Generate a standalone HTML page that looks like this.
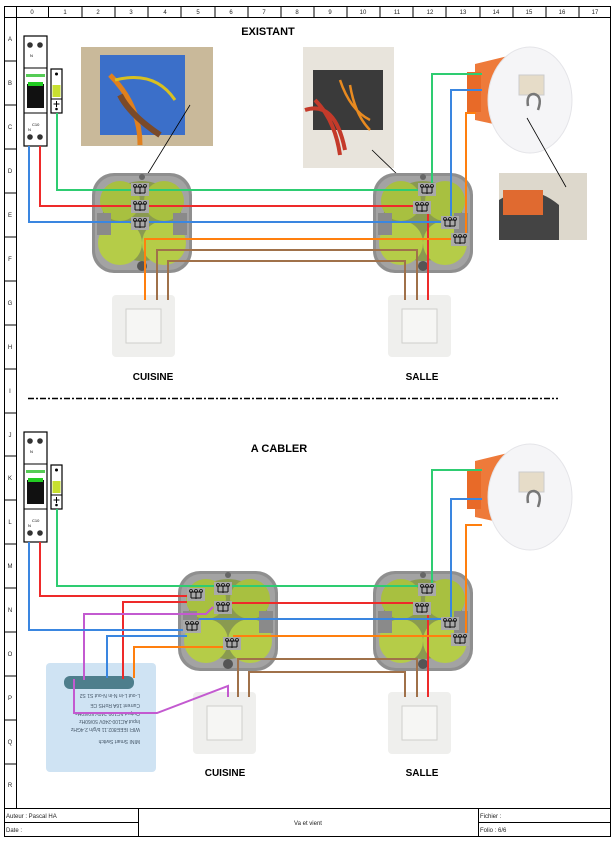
<!DOCTYPE html>
<html><head><meta charset="utf-8"><style>
html,body{margin:0;padding:0;background:#fff}
svg{display:block}
text{font-family:"Liberation Sans",sans-serif}
</style></head><body>
<svg width="615" height="843" viewBox="0 0 615 843" xmlns="http://www.w3.org/2000/svg">
<defs>
<g id="jb">
  <rect x="0" y="0" width="100" height="100" rx="22" fill="#8f8f8f"/>
  <rect x="3" y="3" width="94" height="94" rx="20" fill="#a3a3a3"/>
  <circle cx="50" cy="48" r="40" fill="#8a9a50"/>
  <circle cx="28" cy="28" r="20" fill="#a8c040"/>
  <circle cx="72" cy="28" r="20" fill="#a8c040"/>
  <circle cx="28" cy="70" r="22" fill="#b5cc48"/>
  <circle cx="72" cy="70" r="22" fill="#b5cc48"/>
  <rect x="5" y="40" width="14" height="22" fill="#8a8a8a"/>
  <rect x="81" y="40" width="14" height="22" fill="#8a8a8a"/>
  <circle cx="50" cy="93" r="5" fill="#555"/>
  <circle cx="50" cy="4" r="3" fill="#666"/>
</g>
<g id="cn">
  <rect x="0" y="0" width="18" height="13" fill="#a9a9a9"/>
  <path d="M3 4h12M4 4v6M9 4v7M14 4v6M4 10h10" stroke="#111" stroke-width="1" fill="none"/>
  <circle cx="4" cy="3" r="1.5" fill="none" stroke="#111" stroke-width=".8"/>
  <circle cx="9" cy="3" r="1.5" fill="none" stroke="#111" stroke-width=".8"/>
  <circle cx="14" cy="3" r="1.5" fill="none" stroke="#111" stroke-width=".8"/>
</g>
<g id="sw">
  <rect x="0" y="0" width="63" height="62" rx="4" fill="#efefed"/>
  <rect x="14" y="14" width="35" height="34" fill="#f6f6f4" stroke="#cfcfcc" stroke-width="1"/>
</g>
<g id="brk">
  <rect x="0" y="0" width="23" height="110" fill="#fff" stroke="#000" stroke-width="1.2"/>
  <line x1="0" y1="32" x2="23" y2="32" stroke="#000"/>
  <line x1="0" y1="77" x2="23" y2="77" stroke="#000"/>
  <circle cx="6" cy="9" r="2.8" fill="#333"/><circle cx="16" cy="9" r="2.8" fill="#333"/>
  <circle cx="6" cy="101" r="2.8" fill="#333"/><circle cx="16" cy="101" r="2.8" fill="#333"/>
  <rect x="2" y="38" width="19" height="3" fill="#5c5"/>
  <rect x="3" y="48" width="17" height="24" fill="#111"/>
  <rect x="4" y="46" width="15" height="4" fill="#2c2"/>
  <text x="6" y="21" font-size="4">N</text>
  <text x="8" y="90" font-size="4">C10</text>
  <text x="4" y="95" font-size="4">N</text>
</g>
<g id="earth">
  <rect x="0" y="0" width="11" height="44" fill="#fff" stroke="#000" stroke-width="1.2"/>
  <circle cx="5.5" cy="5" r="1.5" fill="#000"/>
  <rect x="1.5" y="16" width="8" height="12" fill="#c8e030"/>
  <line x1="0" y1="30" x2="11" y2="30" stroke="#000"/>
  <path d="M5.5 32v6M2.5 35h6" stroke="#000"/>
  <circle cx="5.5" cy="40" r="1.3" fill="#000"/>
</g>
<g id="rose">
  <path d="M8 14 L45 5 L45 78 L8 70 Z" fill="#ee7a3a"/>
  <rect x="0" y="22" width="14" height="40" fill="#e86a28"/>
  <ellipse cx="63" cy="50" rx="42" ry="53" fill="#f5f5f7" stroke="#e4e4e8" stroke-width="1"/>
  <rect x="52" y="25" width="25" height="20" fill="#e6dcc8" stroke="#ccc"/>
  <path d="M61 56 q-2 -12 6 -12 q9 2 4 16" stroke="#777" stroke-width="2.5" fill="none"/>
</g>
</defs>

<rect x="4.5" y="6.5" width="606" height="830" fill="none" stroke="#000" stroke-width="1"/>
<line x1="4" y1="17.5" x2="611" y2="17.5" stroke="#000"/>
<line x1="16.5" y1="6" x2="16.5" y2="808" stroke="#000"/>
<g stroke="#000" stroke-width="1">
<line x1="48.5" y1="6" x2="48.5" y2="17"/><line x1="82" y1="6" x2="82" y2="17"/><line x1="115" y1="6" x2="115" y2="17"/><line x1="148" y1="6" x2="148" y2="17"/><line x1="181" y1="6" x2="181" y2="17"/><line x1="215" y1="6" x2="215" y2="17"/><line x1="248" y1="6" x2="248" y2="17"/><line x1="281" y1="6" x2="281" y2="17"/><line x1="314" y1="6" x2="314" y2="17"/><line x1="347" y1="6" x2="347" y2="17"/><line x1="380" y1="6" x2="380" y2="17"/><line x1="413" y1="6" x2="413" y2="17"/><line x1="446" y1="6" x2="446" y2="17"/><line x1="480" y1="6" x2="480" y2="17"/><line x1="513" y1="6" x2="513" y2="17"/><line x1="546" y1="6" x2="546" y2="17"/><line x1="579" y1="6" x2="579" y2="17"/>
<line x1="4" y1="61" x2="16" y2="61"/><line x1="4" y1="105" x2="16" y2="105"/><line x1="4" y1="149" x2="16" y2="149"/><line x1="4" y1="193" x2="16" y2="193"/><line x1="4" y1="237" x2="16" y2="237"/><line x1="4" y1="281" x2="16" y2="281"/><line x1="4" y1="325" x2="16" y2="325"/><line x1="4" y1="369" x2="16" y2="369"/><line x1="4" y1="413" x2="16" y2="413"/><line x1="4" y1="456" x2="16" y2="456"/><line x1="4" y1="500" x2="16" y2="500"/><line x1="4" y1="544" x2="16" y2="544"/><line x1="4" y1="588" x2="16" y2="588"/><line x1="4" y1="632" x2="16" y2="632"/><line x1="4" y1="676" x2="16" y2="676"/><line x1="4" y1="720" x2="16" y2="720"/><line x1="4" y1="764" x2="16" y2="764"/>
</g>
<g font-size="6" text-anchor="middle" fill="#222">
<text x="32" y="14">0</text><text x="65" y="14">1</text><text x="98" y="14">2</text><text x="131" y="14">3</text><text x="165" y="14">4</text><text x="198" y="14">5</text><text x="231" y="14">6</text><text x="264" y="14">7</text><text x="297" y="14">8</text><text x="330" y="14">9</text><text x="363" y="14">10</text><text x="397" y="14">11</text><text x="430" y="14">12</text><text x="463" y="14">13</text><text x="496" y="14">14</text><text x="529" y="14">15</text><text x="562" y="14">16</text><text x="595" y="14">17</text>
<text x="10" y="41">A</text><text x="10" y="85">B</text><text x="10" y="129">C</text><text x="10" y="173">D</text><text x="10" y="217">E</text><text x="10" y="261">F</text><text x="10" y="305">G</text><text x="10" y="349">H</text><text x="10" y="393">I</text><text x="10" y="437">J</text><text x="10" y="480">K</text><text x="10" y="524">L</text><text x="10" y="568">M</text><text x="10" y="612">N</text><text x="10" y="656">O</text><text x="10" y="700">P</text><text x="10" y="744">Q</text><text x="10" y="787">R</text>
</g>
<g stroke="#000" stroke-width="1">
<line x1="4" y1="808.5" x2="611" y2="808.5"/>
<line x1="4" y1="822.5" x2="138" y2="822.5"/><line x1="478" y1="822.5" x2="611" y2="822.5"/>
<line x1="138.5" y1="808" x2="138.5" y2="837"/><line x1="478.5" y1="808" x2="478.5" y2="837"/>
</g>
<g font-size="6" fill="#222">
<text x="6" y="818">Auteur : Pascal HA</text><text x="6" y="832">Date :</text>
<text x="308" y="825" text-anchor="middle">Va et vient</text>
<text x="480" y="818">Fichier :</text><text x="480" y="832">Folio : 6/6</text>
</g>

<text x="268" y="35" font-size="11" font-weight="bold" text-anchor="middle">EXISTANT</text>
<use href="#brk" x="24" y="36"/>
<use href="#earth" x="51" y="69"/>
<rect x="81" y="47" width="132" height="99" fill="#c9b99a"/>
<rect x="100" y="55" width="85" height="80" fill="#3b6fc9"/>
<path d="M110 75 q30 30 30 70" stroke="#e0801e" stroke-width="5" fill="none"/>
<path d="M115 80 q40 -10 60 20" stroke="#d8c020" stroke-width="3" fill="none"/>
<path d="M120 95 q10 20 40 40" stroke="#7a4a2a" stroke-width="6" fill="none"/>
<rect x="303" y="47" width="91" height="121" fill="#e8e4dc"/>
<rect x="313" y="70" width="70" height="60" fill="#3a3a3a"/>
<path d="M305 110 q30 -10 40 40 M315 100 q20 20 25 55" stroke="#c43a2a" stroke-width="4" fill="none"/>
<path d="M340 80 q10 30 30 40 M350 85 q5 30 20 45" stroke="#e88a20" stroke-width="2.5" fill="none"/>
<use href="#rose" x="467" y="50"/>
<rect x="499" y="173" width="88" height="67" fill="#ddd8cc"/>
<path d="M499 200 q30 -20 60 5 v35 h-60z" fill="#444"/>
<rect x="503" y="190" width="40" height="25" fill="#e06a30"/>
<line x1="147" y1="175" x2="190" y2="105" stroke="#000" stroke-width=".8"/>
<line x1="400" y1="177" x2="372" y2="150" stroke="#000" stroke-width=".8"/>
<line x1="527" y1="118" x2="566" y2="187" stroke="#000" stroke-width=".8"/>
<use href="#jb" x="92" y="173"/>
<use href="#jb" x="373" y="173"/>
<use href="#sw" x="112" y="295"/>
<use href="#sw" x="388" y="295"/>
<g fill="none" stroke-width="2">
<polyline points="57,113 57,190 432,190 432,74 482,74" stroke="#2ecc71"/>
<polyline points="40,146 40,206 428,206 428,300" stroke="#ee2a2a"/>
<polyline points="29,146 29,222 451,222 451,90 482,90" stroke="#3a86e0"/>
<polyline points="476,113 466,113 466,239 145,239 145,300" stroke="#ff7f0e"/>
<polyline points="157,300 157,250 417,250 417,300" stroke="#a0714a"/>
<polyline points="168,300 168,261 405,261 405,300" stroke="#a0714a"/>
</g>
<use href="#cn" x="131" y="183"/><use href="#cn" x="131" y="200"/><use href="#cn" x="131" y="217"/>
<use href="#cn" x="418" y="183"/><use href="#cn" x="413" y="201"/><use href="#cn" x="441" y="216"/><use href="#cn" x="451" y="233"/>
<text x="153" y="380" font-size="10" font-weight="bold" text-anchor="middle">CUISINE</text>
<text x="422" y="380" font-size="10" font-weight="bold" text-anchor="middle">SALLE</text>
<line x1="28" y1="398.5" x2="558" y2="398.5" stroke="#000" stroke-width="1.5" stroke-dasharray="6,2,2,2"/>

<text x="279" y="452" font-size="11" font-weight="bold" text-anchor="middle">A CABLER</text>
<use href="#brk" x="24" y="432"/>
<use href="#earth" x="51" y="465"/>
<use href="#rose" x="467" y="447"/>
<use href="#jb" x="178" y="571"/>
<use href="#jb" x="373" y="571"/>
<use href="#sw" x="193" y="692"/>
<use href="#sw" x="388" y="692"/>
<rect x="46" y="663" width="110" height="109" rx="4" fill="#cfe3f3"/>
<rect x="64" y="676" width="70" height="13" rx="6" fill="#4e7e8c"/>
<g font-size="5" fill="#456" transform="rotate(180 101 720)">
<text x="62" y="700">MINI Smart Switch</text>
<text x="62" y="712">WIFI IEEE802.11 b/g/n 2.4GHz</text>
<text x="62" y="720">Input AC100-240V 50/60Hz</text>
<text x="62" y="728">Output AC100-240V 50/60Hz</text>
<text x="62" y="736">Current 16A  RoHS  CE</text>
<text x="62" y="746">L-out L-in N-in N-out S1 S2</text>
</g>
<g fill="none" stroke-width="2">
<polyline points="57,509 57,586 432,586 432,470 482,470" stroke="#2ecc71"/>
<polyline points="40,542 40,596 187,596" stroke="#ee2a2a"/>
<polyline points="123,679 123,602 187,602" stroke="#ee2a2a"/>
<polyline points="232,603 428,603 428,697" stroke="#ee2a2a"/>
<polyline points="84,680 84,614 206,614 213,607" stroke="#c35ad0"/>
<polyline points="29,542 29,630 187,630" stroke="#3a86e0"/>
<polyline points="107,678 107,636 187,636" stroke="#3a86e0"/>
<polyline points="196,625 200,619 451,619 451,499 482,499" stroke="#3a86e0"/>
<polyline points="134,678 134,647 228,647" stroke="#ff7f0e"/>
<polyline points="233,636 466,636 466,525 482,525" stroke="#ff7f0e"/>
<polyline points="238,697 238,659 417,659 417,697" stroke="#a0714a"/>
<polyline points="249,697 249,672 405,672 405,697" stroke="#a0714a"/>
<polyline points="74,679 74,713 157,713 228,686 228,697" stroke="#c35ad0"/>
</g>
<use href="#cn" x="187" y="588"/>
<use href="#cn" x="214" y="582"/><use href="#cn" x="214" y="601"/>
<use href="#cn" x="183" y="620"/><use href="#cn" x="223" y="637"/>
<use href="#cn" x="418" y="583"/><use href="#cn" x="413" y="602"/><use href="#cn" x="441" y="617"/><use href="#cn" x="451" y="633"/>
<text x="225" y="776" font-size="10" font-weight="bold" text-anchor="middle">CUISINE</text>
<text x="422" y="776" font-size="10" font-weight="bold" text-anchor="middle">SALLE</text>
</svg>
</body></html>
